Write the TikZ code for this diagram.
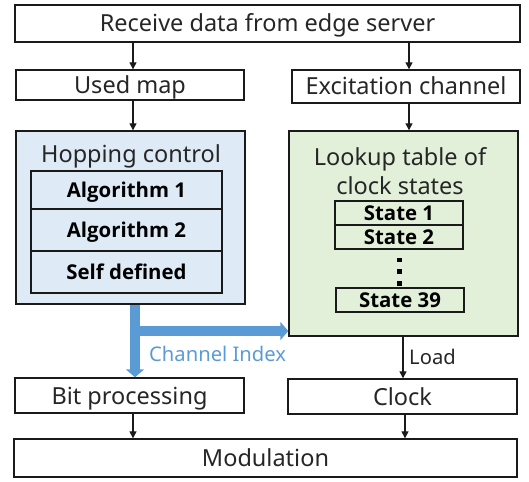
\documentclass[tikz,border=0pt]{standalone}
\usepackage{fontspec}
\setmainfont{Noto Sans}
\newfontfamily\cellfont{Open Sans}
\usetikzlibrary{arrows.meta}
\definecolor{bluefill}{HTML}{DEEBF7}
\definecolor{greenfill}{HTML}{E2F0D9}
\definecolor{arrowblue}{HTML}{5B9BD5}
\definecolor{edgecol}{HTML}{1A1A1A}
\begin{document}
\begin{tikzpicture}[x=1pt,y=-1pt,
  box/.style={draw=edgecol, line width=1.4pt, rectangle, inner sep=0pt,
    font=\fontsize{23.5}{26}\selectfont, text height=17pt, text depth=0pt, text=black!85},
  cell/.style={draw=edgecol, line width=1.4pt, rectangle, inner sep=0pt,
    font=\cellfont\bfseries\fontsize{20.4}{22}\selectfont, text height=14.6pt, text depth=0pt, minimum width=#1},
  cell/.default=191pt,
  title/.style={inner sep=0pt, font=\fontsize{23.5}{26}\selectfont, text=black!85},
  lbl/.style={inner sep=0pt, font=\fontsize{20.2}{22}\selectfont},
  arr/.style={draw=edgecol, line width=1.3pt, -{Triangle[length=7pt,width=7pt]}},
  bluearr/.style={draw=arrowblue, line width=10pt, -{Triangle[length=8pt,width=18pt]}},
]
\useasboundingbox (0,0) rectangle (529,481);

% main boxes
\node[box, minimum width=505pt, minimum height=37pt] (top) at (267.5,23.5) {Receive data from edge server};
\node[box, minimum width=228pt, minimum height=30pt] (used) at (130,85) {Used map};
\node[box, minimum width=228pt, minimum height=33pt] (exc) at (406,86.5) {Excitation channel};
\node[box, fill=bluefill, minimum width=229pt, minimum height=173pt] (hop) at (130.5,217.5) {};
\node[box, fill=greenfill, minimum width=229pt, minimum height=205pt] (look) at (403.5,233.5) {};
\node[box, minimum width=229pt, minimum height=35pt] (bit) at (129.5,395.5) {Bit processing};
\node[box, minimum width=229pt, minimum height=35pt] (clock) at (402.5,396.5) {Clock};
\node[box, minimum width=503pt, minimum height=38pt] (mod) at (265.5,458) {Modulation};

% titles inside containers
\node[title, anchor=base] (hoptitle) at (131,162.3) {Hopping control};
\node[title, anchor=base] (lookA) at (400,165) {Lookup table of};
\node[title, anchor=base] (lookB) at (400,194) {clock states};

% hopping control table
\node[cell, minimum height=38pt] (alg1) at (126.5,190) {Algorithm 1};
\node[cell, minimum height=42pt] (alg2) at (126.5,230) {Algorithm 2};
\node[cell, minimum height=42pt] (self) at (126.5,272) {Self defined};

% clock state table
\node[cell=128pt, minimum height=24pt] (st1) at (399,213) {State 1};
\node[cell=128pt, minimum height=24pt] (st2) at (399,237) {State 2};
\node[cell=128pt, minimum height=24pt] (st39) at (400,300) {State 39};
\foreach \yy in {260,271.5,283.3}{
  \fill[black] (396.5,\yy-2.4) rectangle (401.5,\yy+2.4);
}

% column coordinates
\coordinate (xl) at (133,0);
\coordinate (xr) at (409,0);
\coordinate (xload) at (403,0);
\coordinate (xclk) at (405,0);
\coordinate (xb) at (135,0);
\coordinate (yh) at (0,331);

% black connectors
\draw[arr] (xl |- top.south) -- (xl |- used.north);
\draw[arr] (xr |- top.south) -- (xr |- exc.north);
\draw[arr] (xl |- used.south) -- (xl |- hop.north);
\draw[arr] (xr |- exc.south) -- (xr |- look.north);
\draw[arr] (xload |- look.south) -- (xload |- clock.north);
\draw[arr] (xl |- bit.south) -- (xl |- mod.north);
\draw[arr] (xclk |- clock.south) -- (xclk |- mod.north);

% blue channel index arrows
\draw[bluearr] (xb |- hop.south) -- (xb |- bit.north);
\draw[bluearr] (xb |- yh) -- (look.west |- yh);

% labels
\node[lbl, anchor=base west, text=arrowblue] (chidx) at (149,361) {Channel Index};
\node[lbl, anchor=base west, text=black!85] (load) at (409,364) {Load};
\end{tikzpicture}
\end{document}
